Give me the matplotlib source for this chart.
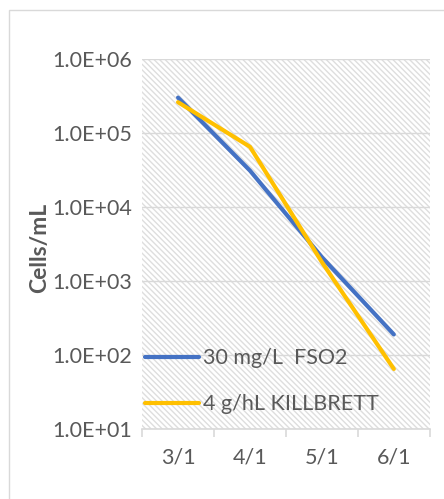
import matplotlib
matplotlib.use("Agg")
import matplotlib.pyplot as plt
from matplotlib.patches import Rectangle
from matplotlib.ticker import FuncFormatter, FixedLocator, NullFormatter

# data
dates = ["3/1", "4/1", "5/1", "6/1"]
fso2 = [3.0e5, 3.1e4, 2.1e3, 1.9e2]
killbrett = [2.6e5, 6.5e4, 1.8e3, 65]
series_names = ["30 mg/L  FSO2", "4 g/hL KILLBRETT"]

BLUE = "#4472C4"
GOLD = "#FFC000"
GRID = "#d9d9d9"
HATCH = "#dedede"
TEXT = "#595959"

plt.rcParams["font.family"] = ["Lato", "DejaVu Sans"]
plt.rcParams["hatch.linewidth"] = 1.0

fig = plt.figure(figsize=(4.44, 4.99), dpi=100)
ax = fig.add_axes([0.320, 0.140, 0.648, 0.742])

# chart-area border
fig.patches.append(Rectangle((9 / 444, -0.01), 1.0, 1 - 10 / 499 + 0.01,
                             transform=fig.transFigure, fill=False,
                             edgecolor=GRID, linewidth=1.0))

# hatched plot area
ax.add_patch(Rectangle((0, 0), 1, 1, transform=ax.transAxes, facecolor="white",
                       edgecolor=HATCH, linewidth=0, hatch="\\" * 6, zorder=0))

x = list(range(len(dates)))
ax.plot(x, fso2, color=BLUE, lw=3.0, solid_capstyle="round", label=series_names[0], zorder=3)
ax.plot(x, killbrett, color=GOLD, lw=3.0, solid_capstyle="round", label=series_names[1], zorder=3)

ax.set_yscale("log")
ax.set_ylim(10, 1e6)
ax.set_xlim(-0.5, len(dates) - 0.5)

ax.yaxis.set_major_locator(FixedLocator([1e1, 1e2, 1e3, 1e4, 1e5, 1e6]))
ax.yaxis.set_minor_formatter(NullFormatter())
ax.yaxis.set_major_formatter(FuncFormatter(lambda v, p: "{:.1E}".format(v)))
ax.tick_params(axis="y", which="both", length=0, labelsize=15.5, labelcolor=TEXT, pad=7)
ax.yaxis.grid(True, which="major", color=GRID, lw=1.0, zorder=1)

# category axis: tick marks between categories, labels centered
ax.set_xticks([i - 0.5 for i in range(len(dates) + 1)])
ax.set_xticklabels([])
ax.set_xticks(x, minor=True)
ax.set_xticklabels(dates, minor=True)
ax.tick_params(axis="x", which="major", length=6, color=GRID, width=1.2)
ax.tick_params(axis="x", which="minor", length=0, labelsize=15.5, labelcolor=TEXT, pad=13)

for s in ["left", "right", "top"]:
    ax.spines[s].set_visible(False)
ax.spines["bottom"].set_color(GRID)
ax.spines["bottom"].set_linewidth(1.2)

ax.set_ylabel("Cells/mL", fontsize=16.5, fontweight="bold", color=TEXT, labelpad=3)
ax.yaxis.set_label_coords(-0.32, 0.49)

leg = ax.legend(loc="lower left", bbox_to_anchor=(0.01, 0.04), frameon=False,
                fontsize=15.5, handlelength=2.5, handletextpad=0.2,
                labelspacing=1.2, borderpad=0, borderaxespad=0)
for t in leg.get_texts():
    t.set_color(TEXT)

fig.savefig("out.png", dpi=100)
